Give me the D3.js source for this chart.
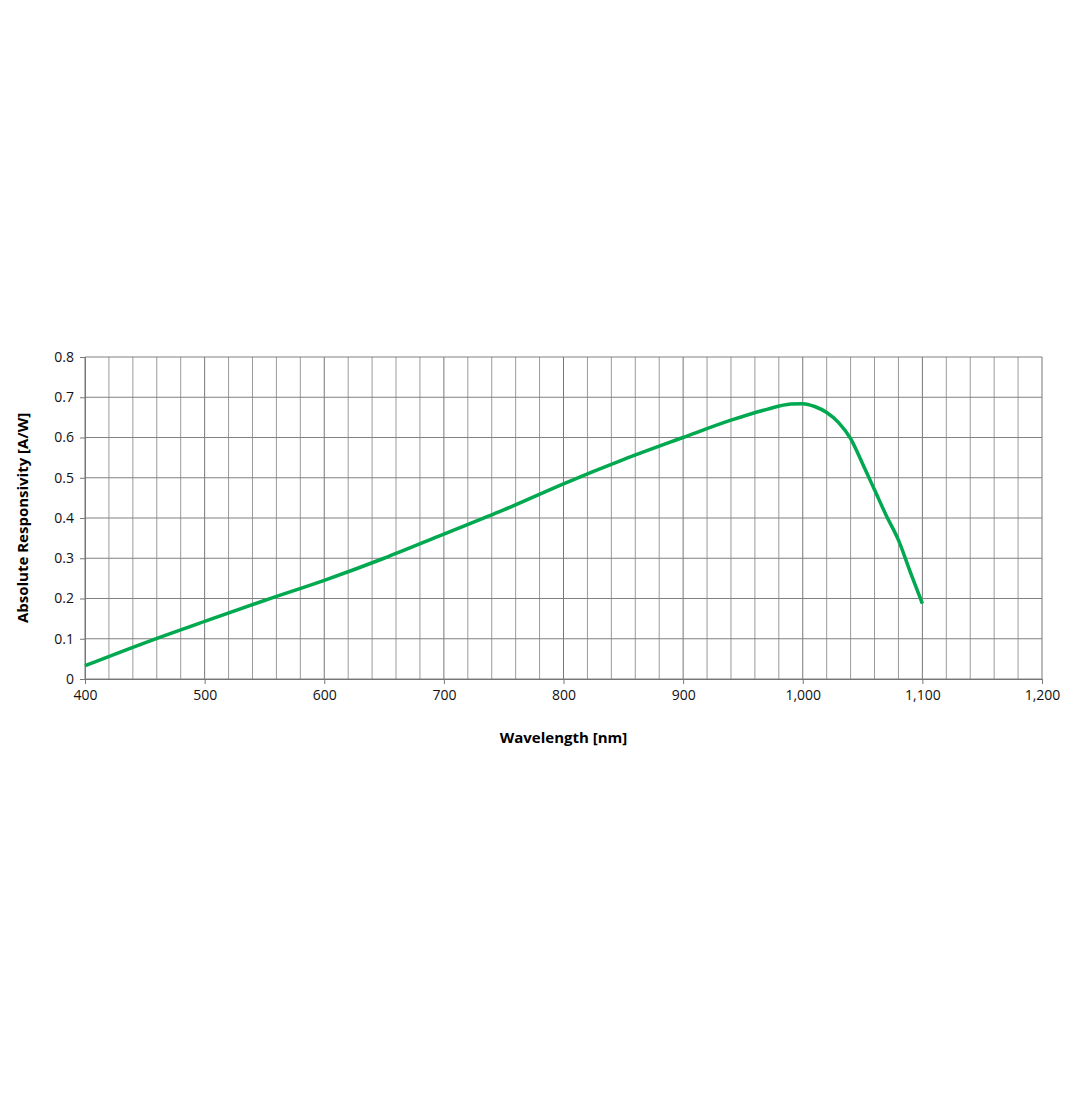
<!DOCTYPE html>
<html><head><meta charset="utf-8">
<script src="https://cdn.jsdelivr.net/npm/d3@7"></script>
<style>body{margin:0;background:#fff}</style></head>
<body><div id="chart"></div>
<script>
const wavelengths = [400, 450, 500, 550, 600, 650, 700, 750, 800, 850, 900, 940, 970, 990, 1000, 1010, 1020, 1030, 1040, 1050, 1060, 1070, 1080, 1090, 1100]
const responsivity = [0.033, 0.09, 0.143, 0.195, 0.245, 0.3, 0.36, 0.42, 0.485, 0.545, 0.6, 0.643, 0.67, 0.683, 0.684, 0.677, 0.662, 0.637, 0.597, 0.535, 0.47, 0.405, 0.345, 0.265, 0.187]
const xTicks = [400, 500, 600, 700, 800, 900, 1000, 1100, 1200]
const yTicks = [0, 0.1, 0.2, 0.3, 0.4, 0.5, 0.6, 0.7, 0.8]

const width = 1075, height = 1095
const svg = d3.select("#chart").append("svg").attr("width", width).attr("height", height)
    .style("font-family", "'Open Sans', sans-serif")

const x = d3.scaleLinear().domain([400, 1200]).range([85, 1042])
const y = d3.scaleLinear().domain([0, 0.8]).range([679, 357])

// grid
const minor = d3.range(400, 1201, 20)
svg.append("g").selectAll("line").data(minor).enter().append("line")
    .attr("x1", d => x(d)).attr("x2", d => x(d)).attr("y1", y(0)).attr("y2", y(0.8))
    .attr("stroke", d => d % 100 === 0 ? "#777" : "#9a9a9a").attr("stroke-width", 1)
svg.append("g").selectAll("line").data(yTicks).enter().append("line")
    .attr("x1", x(400)).attr("x2", x(1200)).attr("y1", d => y(d)).attr("y2", d => y(d))
    .attr("stroke", "#808080").attr("stroke-width", 1)

const xAxis = svg.append("g").attr("transform", `translate(0,${y(0)})`)
    .call(d3.axisBottom(x).tickValues(xTicks).tickSize(5).tickPadding(6))
const yAxis = svg.append("g").attr("transform", `translate(${x(400)},0)`)
    .call(d3.axisLeft(y).tickValues(yTicks).tickSize(5).tickPadding(6).tickFormat(d => d === 0 ? "0" : d3.format(".1f")(d)))
;[xAxis, yAxis].forEach(a => {
    a.selectAll("path,line").attr("stroke", "#777")
    a.selectAll("text").attr("font-size", 14).attr("fill", "#111").style("font-family", "'Open Sans', sans-serif")
})

svg.append("path").datum(wavelengths.map((w, i) => [w, responsivity[i]]))
    .attr("fill", "none").attr("stroke", "#00a84f").attr("stroke-width", 3.5)
    .attr("d", d3.line().x(d => x(d[0])).y(d => y(d[1])).curve(d3.curveMonotoneX))

svg.append("text").attr("x", (x(400) + x(1200)) / 2).attr("y", 743).attr("text-anchor", "middle")
    .attr("font-size", 15).attr("font-weight", "bold").text("Wavelength [nm]")
svg.append("text").attr("transform", `translate(28,${(y(0) + y(0.8)) / 2}) rotate(-90)`)
    .attr("text-anchor", "middle").attr("font-size", 15).attr("font-weight", "bold")
    .text("Absolute Responsivity  [A/W]")
</script></body></html>
